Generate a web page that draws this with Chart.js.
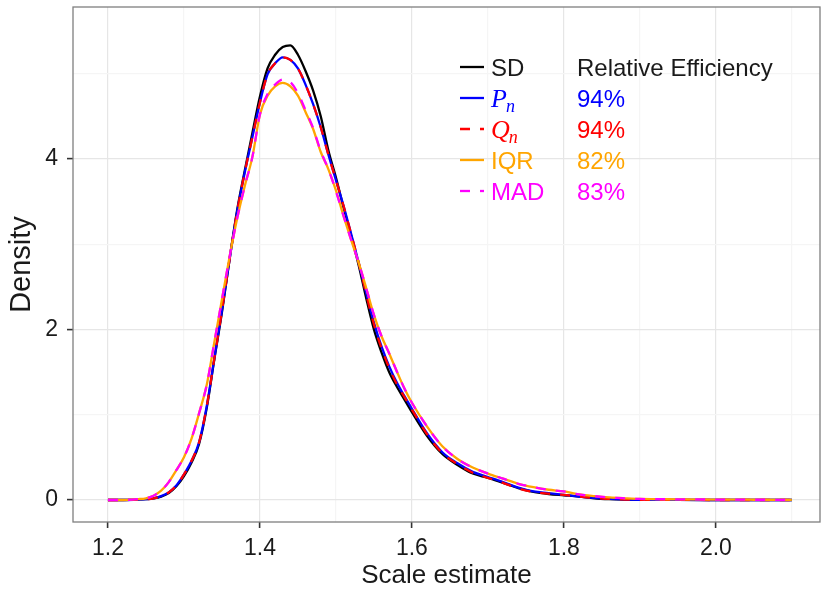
<!DOCTYPE html>
<html><head><meta charset="utf-8">
<script src="https://cdn.jsdelivr.net/npm/chart.js@4"></script>
<style>html,body{margin:0;padding:0;background:#fff;overflow:hidden}#wrap{width:821px;height:591px;position:relative}</style>
</head><body><div id="wrap"><canvas id="c" width="821" height="591"></canvas></div>
<script>
// ---- data ----
const xGrid = [1.20,1.22,1.24,1.25,1.26,1.27,1.28,1.29,1.30,1.31,1.32,1.33,1.34,1.35,1.36,1.37,1.38,1.39,1.40,1.41,1.42,1.43,1.44,1.45,1.46,1.47,1.48,1.49,1.50,1.51,1.52,1.53,1.54,1.55,1.56,1.57,1.58,1.59,1.60,1.62,1.64,1.66,1.68,1.70,1.72,1.74,1.76,1.78,1.80,1.82,1.84,1.86,1.88,1.90,1.95,2.00,2.05,2.10];
const sdValues  = [0,0,0.004,0.01,0.02,0.04,0.08,0.16,0.28,0.44,0.66,1.08,1.65,2.20,2.82,3.40,3.86,4.30,4.73,5.06,5.22,5.31,5.33,5.22,5.03,4.80,4.50,4.10,3.78,3.43,3.10,2.75,2.36,2.00,1.73,1.50,1.33,1.18,1.03,0.75,0.54,0.41,0.31,0.26,0.20,0.14,0.095,0.07,0.055,0.04,0.02,0.01,0.005,0.003,0.001,0,0,0];
const pnValues  = [0,0,0.005,0.01,0.02,0.045,0.09,0.17,0.30,0.46,0.68,1.10,1.66,2.22,2.82,3.38,3.84,4.25,4.66,4.99,5.12,5.19,5.16,5.06,4.87,4.64,4.37,4.05,3.75,3.45,3.12,2.78,2.42,2.08,1.80,1.57,1.38,1.22,1.07,0.78,0.56,0.43,0.33,0.27,0.21,0.145,0.10,0.08,0.06,0.04,0.025,0.012,0.006,0.003,0.001,0,0,0];
const qnValues  = [0,0,0.005,0.01,0.02,0.045,0.09,0.17,0.30,0.46,0.68,1.10,1.66,2.22,2.82,3.38,3.84,4.25,4.66,4.99,5.12,5.19,5.16,5.06,4.87,4.64,4.37,4.05,3.75,3.45,3.12,2.78,2.41,2.06,1.78,1.55,1.36,1.21,1.06,0.77,0.55,0.42,0.32,0.26,0.20,0.135,0.095,0.075,0.06,0.04,0.025,0.012,0.006,0.003,0.001,0,0,0];
const iqrValues = [0,0,0.01,0.02,0.05,0.11,0.21,0.35,0.50,0.72,1.02,1.35,1.85,2.35,2.85,3.30,3.68,4.02,4.52,4.74,4.85,4.89,4.85,4.74,4.55,4.35,4.08,3.88,3.63,3.33,3.05,2.78,2.48,2.17,1.92,1.72,1.51,1.31,1.14,0.86,0.63,0.48,0.38,0.31,0.25,0.19,0.15,0.12,0.10,0.065,0.045,0.03,0.02,0.012,0.008,0.005,0.003,0.002];
const madValues = [0,0,0.01,0.02,0.05,0.11,0.21,0.35,0.50,0.72,1.02,1.35,1.85,2.35,2.85,3.30,3.68,4.02,4.52,4.76,4.87,4.93,4.90,4.77,4.57,4.36,4.09,3.88,3.62,3.33,3.05,2.78,2.48,2.17,1.92,1.72,1.51,1.31,1.14,0.86,0.63,0.48,0.38,0.31,0.25,0.19,0.15,0.12,0.10,0.065,0.045,0.03,0.02,0.012,0.008,0.005,0.003,0.002];
const seriesNames = ['SD','Pn','Qn','IQR','MAD'];
const efficiencyLabels = ['Relative Efficiency','94%','94%','82%','83%'];
const xMajorTicks = [1.2,1.4,1.6,1.8,2.0];
const xMinorTicks = [1.3,1.5,1.7,1.9,2.1];
const yMajorTicks = [0,2,4];
const yMinorTicks = [1,3,5];
const xTitle = 'Scale estimate';
const yTitle = 'Density';

// ---- styles ----
const colors = ['#000000','#0000FF','#FF0000','#FFA500','#FF00FF'];
const dashes = [[],[],[10,10],[],[10,10]];
const FONT = "'Liberation Sans', Arial, sans-serif";
const TEXT = '#1a1a1a';

function pts(vals){ return xGrid.map((x,i)=>({x:x,y:vals[i]})); }
const allVals = [sdValues,pnValues,qnValues,iqrValues,madValues];
const datasets = allVals.map((v,i)=>({
  label: seriesNames[i], data: pts(v), borderColor: colors[i], borderWidth: 2.3,
  borderDash: dashes[i], pointRadius: 0, fill: false,
  tension: 0.4, cubicInterpolationMode: 'monotone', order: 5 - i
}));

const isMaj = (v, arr) => arr.some(t => Math.abs(t - v) < 1e-6);

const panelBorder = {
  id: 'panelBorder',
  beforeDatasetsDraw(chart){
    const {ctx, chartArea:a} = chart;
    ctx.save(); ctx.strokeStyle = '#7f7f7f'; ctx.lineWidth = 1.3;
    ctx.strokeRect(a.left, a.top, a.right - a.left, a.bottom - a.top);
    ctx.restore();
  }
};

const customLegend = {
  id: 'customLegend',
  afterDatasetsDraw(chart){
    const ctx = chart.ctx;
    const rows = [67, 98, 129, 160, 191];
    const keyX0 = 460, keyX1 = 484, textX = 491, effX = 577;
    const fs = 24, cap = 0.716 * fs;
    ctx.save();
    chart.data.datasets.forEach((ds, i) => {
      const y = rows[i];
      ctx.strokeStyle = ds.borderColor; ctx.lineWidth = 2.3;
      ctx.setLineDash(ds.borderDash || []);
      ctx.beginPath(); ctx.moveTo(keyX0, y); ctx.lineTo(keyX1, y); ctx.stroke();
      ctx.setLineDash([]);
      ctx.fillStyle = i === 0 ? TEXT : ds.borderColor;
      ctx.textBaseline = 'alphabetic'; ctx.textAlign = 'left';
      const base = y + cap / 2;
      if (ds.label === 'Pn' || ds.label === 'Qn') {
        ctx.font = "italic 26px 'Liberation Serif', serif";
        ctx.fillText(ds.label[0], textX, base);
        const w = ctx.measureText(ds.label[0]).width;
        ctx.font = "italic 18px 'Liberation Serif', serif";
        ctx.fillText(ds.label.slice(1), textX + w - 1, base + 5);
      } else {
        ctx.font = fs + 'px ' + FONT;
        ctx.fillText(ds.label, textX, base);
      }
      ctx.font = fs + 'px ' + FONT;
      ctx.fillStyle = i === 0 ? TEXT : ds.borderColor;
      ctx.fillText(efficiencyLabels[i], effX, base);
    });
    ctx.restore();
  }
};

new Chart(document.getElementById('c'), {
  type: 'line',
  data: { datasets },
  options: {
    responsive: false, animation: false, devicePixelRatio: 1,
    layout: { padding: { top: 7, right: 1, left: 0, bottom: 0 } },
    plugins: { legend: { display: false }, tooltip: { enabled: false } },
    scales: {
      x: {
        type: 'linear', min: 1.154, max: 2.137,
        afterBuildTicks: s => { s.ticks = xMajorTicks.concat(xMinorTicks).sort((a,b)=>a-b).map(v=>({value:v})); },
        afterFit: s => { s.height = 69; s.paddingLeft = 0; s.paddingRight = 0; },
        ticks: { autoSkip: false, maxRotation: 0, padding: 7, color: TEXT,
          font: { family: FONT, size: 23 },
          callback: v => isMaj(v, xMajorTicks) ? v.toFixed(1) : '' },
        grid: { color: c => isMaj(c.tick.value, xMajorTicks) ? '#e6e6e6' : '#f5f5f5', lineWidth: 1.2,
          tickColor: c => isMaj(c.tick.value, xMajorTicks) ? '#333333' : 'rgba(0,0,0,0)', tickLength: 6, tickWidth: 1.6 },
        border: { display: false },
        title: { display: true, text: xTitle, color: TEXT, font: { family: FONT, size: 26 }, padding: { top: 0, bottom: 0 } }
      },
      y: {
        type: 'linear', min: -0.258, max: 5.78,
        afterBuildTicks: s => { s.ticks = yMajorTicks.concat(yMinorTicks).sort((a,b)=>a-b).map(v=>({value:v})); },
        afterFit: s => { s.width = 73; s.paddingTop = 0; s.paddingBottom = 0; },
        ticks: { autoSkip: false, padding: 9, color: TEXT,
          font: { family: FONT, size: 23 },
          callback: v => isMaj(v, yMajorTicks) ? String(v) : '' },
        grid: { color: c => isMaj(c.tick.value, yMajorTicks) ? '#e6e6e6' : '#f5f5f5', lineWidth: 1.2,
          tickColor: c => isMaj(c.tick.value, yMajorTicks) ? '#333333' : 'rgba(0,0,0,0)', tickLength: 6, tickWidth: 1.6 },
        border: { display: false },
        title: { display: true, text: yTitle, color: TEXT, font: { family: FONT, size: 29 }, padding: { top: 5, bottom: 0 } }
      }
    }
  },
  plugins: [panelBorder, customLegend]
});
</script>
</body></html>
